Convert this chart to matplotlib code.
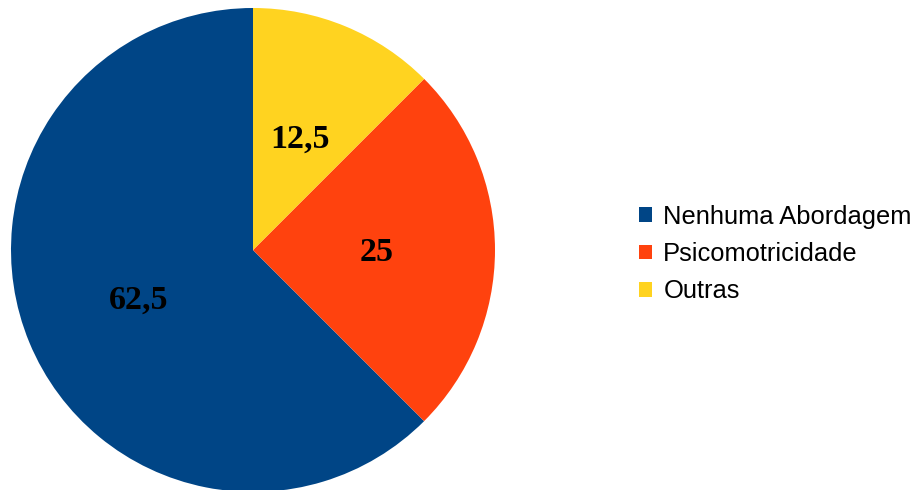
import matplotlib
matplotlib.use('Agg')
import matplotlib.pyplot as plt

# share of each approach (%)
categories = ['Nenhuma Abordagem', 'Psicomotricidade', 'Outras']
values = [62.5, 25, 12.5]
colors = ['#004586', '#ff420e', '#ffd320']


def fmt_pct(p):
    # Brazilian decimal comma
    return f"{p:g}".replace('.', ',')


fig = plt.figure(figsize=(9.15, 4.9), dpi=100)
ax = fig.add_axes([0, 0, 1, 1])

wedges, texts, autotexts = ax.pie(
    values, colors=colors, startangle=90, counterclock=True,
    center=(253, 240), radius=242,
    autopct=fmt_pct, pctdistance=0.51,
    wedgeprops={'linewidth': 0},
    textprops={'family': 'Liberation Serif', 'fontweight': 'bold',
               'fontsize': 24.5, 'color': 'black'})

# sit the numbers a touch lower inside the wedges
for t in autotexts:
    x, y = t.get_position()
    t.set_position((x, y - 3))

ax.set_xlim(0, 915)
ax.set_ylim(0, 490)
ax.set_aspect('equal')
ax.axis('off')

leg = ax.legend(wedges, categories, loc='center left',
                bbox_to_anchor=(639 / 915, 236 / 490),
                frameon=False, borderpad=0, borderaxespad=0,
                handlelength=0.5, handleheight=0.5, handletextpad=0.45,
                labelspacing=0.52,
                prop={'family': 'Liberation Sans', 'size': 18.4})

fig.savefig('out.png', dpi=100)
